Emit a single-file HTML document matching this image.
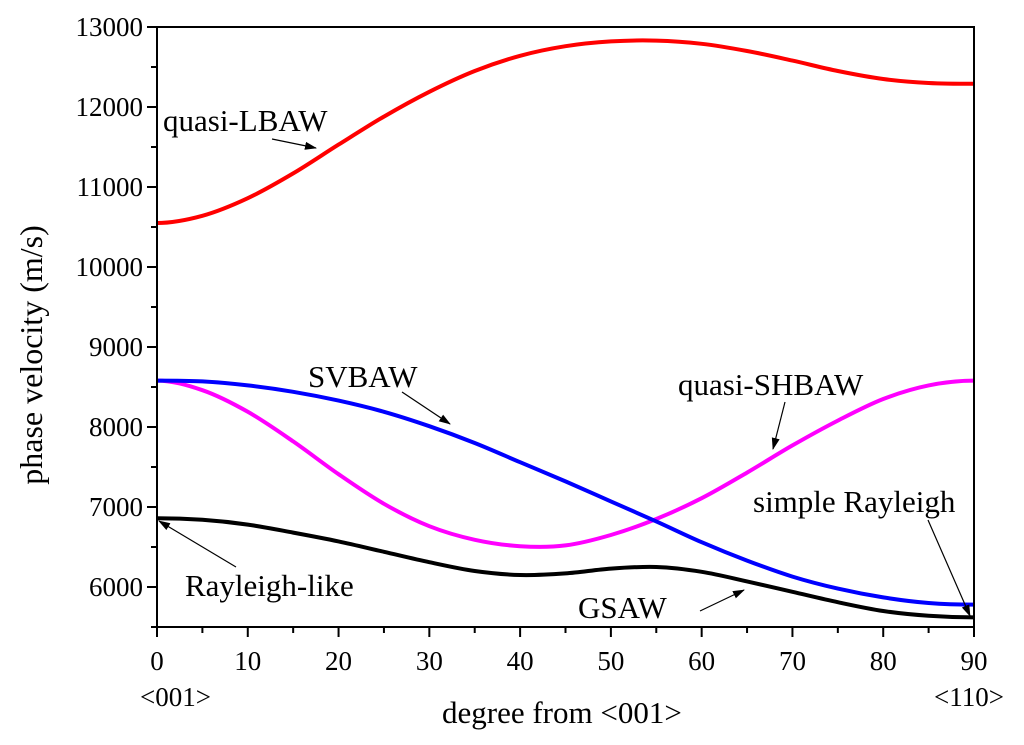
<!DOCTYPE html>
<html><head><meta charset="utf-8"><style>
html,body{margin:0;padding:0;background:#fff;}
svg{display:block;font-family:"Liberation Serif",serif;}
</style></head><body>
<svg id="chart" width="1024" height="745" viewBox="0 0 1024 745">
<defs><marker id="ah" markerWidth="12" markerHeight="8" refX="11" refY="4" orient="auto" markerUnits="userSpaceOnUse"><path d="M0,0 L12,4 L0,8 z" fill="#000"/></marker></defs>
<g id="plot"></g>
<text x="442" y="723" font-size="31">degree from &lt;001&gt;</text>
<text transform="translate(42,355) rotate(-90)" font-size="32" text-anchor="middle">phase velocity (m/s)</text>
<text x="140" y="706" font-size="27">&lt;001&gt;</text>
<text x="934" y="706" font-size="27">&lt;110&gt;</text>
<text x="163" y="131" font-size="31">quasi-LBAW</text>
<line x1="272" y1="139" x2="316" y2="148" stroke="#000" stroke-width="1.2" marker-end="url(#ah)"/>
<text x="308" y="387" font-size="31">SVBAW</text>
<line x1="402" y1="392" x2="450" y2="424" stroke="#000" stroke-width="1.2" marker-end="url(#ah)"/>
<text x="678" y="395" font-size="31">quasi-SHBAW</text>
<line x1="785" y1="402" x2="773" y2="449" stroke="#000" stroke-width="1.2" marker-end="url(#ah)"/>
<text x="753" y="512" font-size="31">simple Rayleigh</text>
<line x1="928" y1="520" x2="970" y2="616" stroke="#000" stroke-width="1.2" marker-end="url(#ah)"/>
<text x="185" y="596" font-size="31">Rayleigh-like</text>
<line x1="236" y1="567" x2="159" y2="521" stroke="#000" stroke-width="1.2" marker-end="url(#ah)"/>
<text x="578" y="618" font-size="31">GSAW</text>
<line x1="700" y1="611" x2="744" y2="590" stroke="#000" stroke-width="1.2" marker-end="url(#ah)"/>
</svg>
<script>
const angles=[0,5,10,15,20,25,30,35,40,45,50,55,60,65,70,75,80,85,90];
const quasiLBAW=[10550,10640,10860,11170,11530,11880,12190,12450,12640,12760,12820,12830,12790,12700,12580,12450,12350,12300,12290];
const svbaw=[8580,8570,8520,8440,8330,8190,8010,7800,7560,7320,7070,6820,6560,6330,6130,5980,5870,5800,5780];
const quasiSHBAW=[8580,8460,8190,7820,7410,7040,6760,6590,6510,6520,6650,6850,7110,7430,7770,8080,8350,8520,8580];
const gsaw=[6860,6840,6780,6680,6570,6440,6310,6200,6150,6170,6230,6250,6190,6070,5940,5810,5700,5640,5620];
const xTicks=[0,10,20,30,40,50,60,70,80,90];
const yTicks=[6000,7000,8000,9000,10000,11000,12000,13000];
const X0=157,X1=974,Y0=627,Y1=27,XMIN=0,XMAX=90,YMIN=5500,YMAX=13000;
const xs=v=>X0+(v-XMIN)/(XMAX-XMIN)*(X1-X0);
const ys=v=>Y0-(v-YMIN)/(YMAX-YMIN)*(Y0-Y1);
const NS='http://www.w3.org/2000/svg';
const g=document.getElementById('plot');
function mk(t,a){const e=document.createElementNS(NS,t);for(const k in a)e.setAttribute(k,a[k]);g.appendChild(e);return e;}
function path(vals,color,name){
  const p=angles.map((a,i)=>[xs(a),ys(vals[i])]);
  const n=p.length;
  // mirrored ghost points for zero-slope-ish ends
  const pre=[2*p[0][0]-p[1][0],p[1][1]];
  const post=[2*p[n-1][0]-p[n-2][0],p[n-2][1]];
  let d='M'+p[0][0]+','+p[0][1];
  for(let i=0;i<n-1;i++){
    const p0=i===0?pre:p[i-1],p1=p[i],p2=p[i+1],p3=i+2<n?p[i+2]:post;
    d+=` C${p1[0]+(p2[0]-p0[0])/6},${p1[1]+(p2[1]-p0[1])/6} ${p2[0]-(p3[0]-p1[0])/6},${p2[1]-(p3[1]-p1[1])/6} ${p2[0]},${p2[1]}`;
  }
  const e=mk('path',{d:d,fill:'none',stroke:color,'stroke-width':4});
  
  
}
path(quasiLBAW,'#ff0000','series-quasi-lbaw');
path(quasiSHBAW,'#ff00ff','series-quasi-shbaw');
path(svbaw,'#0000ff','series-svbaw');
path(gsaw,'#000000','series-gsaw');
const frame=mk('rect',{x:X0,y:Y1,width:X1-X0,height:Y0-Y1,fill:'none',stroke:'#000','stroke-width':2});


for(let v=0;v<=90;v+=5){
  const major=v%10===0;
  const t=mk('line',{x1:xs(v),x2:xs(v),y1:Y0,y2:Y0+(major?10:6),stroke:'#000','stroke-width':2});
  
  
}
xTicks.forEach(v=>{
  const t=mk('text',{x:xs(v),y:Y0+43,'font-size':27,'text-anchor':'middle'});
  t.textContent=v;
  
  
});
for(let v=5500;v<=13000;v+=500){
  const major=v%1000===0;
  const t=mk('line',{x1:X0-(major?10:6),x2:X0,y1:ys(v),y2:ys(v),stroke:'#000','stroke-width':2});
  
  
}
yTicks.forEach(v=>{
  const t=mk('text',{x:X0-14,y:ys(v)+9,'font-size':27,'text-anchor':'end'});
  t.textContent=v;
  
  
});
</script>
</body></html>
